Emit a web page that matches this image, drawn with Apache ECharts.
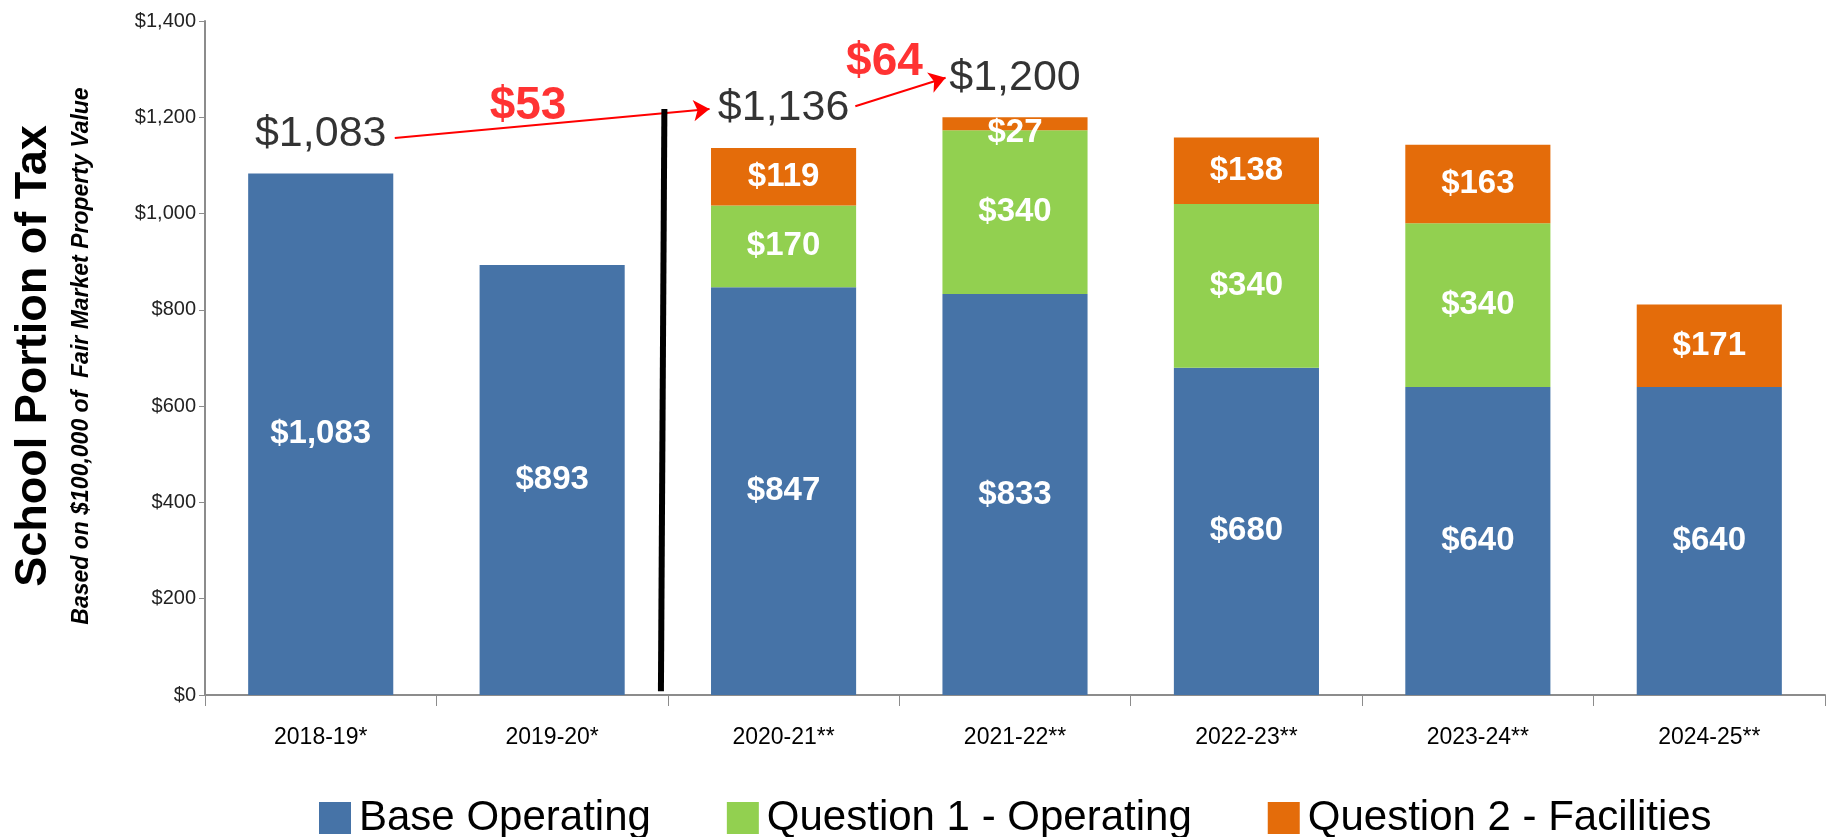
<!DOCTYPE html>
<html>
<head>
<meta charset="utf-8">
<script src="https://cdn.jsdelivr.net/npm/echarts@6/dist/echarts.min.js"></script>
<style>
html,body{margin:0;padding:0;background:#fff;}
#chart{width:1831px;height:837px;}
</style>
</head>
<body>
<div id="chart"></div>
<script>
// ---- data ----
const categories = ['2018-19*', '2019-20*', '2020-21**', '2021-22**', '2022-23**', '2023-24**', '2024-25**'];
const baseOperating = [1083, 893, 847, 833, 680, 640, 640];
const question1Operating = [null, null, 170, 340, 340, 340, null];
const question2Facilities = [null, null, 119, 27, 138, 163, 171];
const annotatedTotals = [1083, null, 1136, 1200, null, null, null];
const changeLabels = ['$53', '$64'];
const yAxisMin = 0, yAxisMax = 1400, yAxisStep = 200;
const seriesNames = ['Base Operating', 'Question 1 - Operating', 'Question 2 - Facilities'];

const FONT = '"Liberation Sans", Arial, sans-serif';
const money = v => '$' + Number(v).toLocaleString('en-US');

const chart = echarts.init(document.getElementById('chart'), null, {renderer: 'canvas'});

const barLabel = {
  show: true,
  position: 'inside',
  color: '#ffffff',
  fontFamily: FONT,
  fontWeight: 'bold',
  fontSize: 33,
  formatter: p => money(p.value)
};

function barSeries(name, values, color) {
  return {
    name: name,
    type: 'bar',
    stack: 'total',
    xAxisIndex: 0,
    yAxisIndex: 0,
    barWidth: '62.7%',
    data: values.map(v => (v !== null && v < 50)
      ? {value: v, label: {offset: [0, 9]}}
      : v),
    itemStyle: {color: color},
    label: barLabel
  };
}

const option = {
  animation: false,
  backgroundColor: '#ffffff',
  grid: {left: 205, right: 6, top: 21, bottom: 142, containLabel: false},
  legend: {
    data: seriesNames,
    left: 319,
    top: 797,
    padding: 0,
    icon: 'rect',
    itemWidth: 32,
    itemHeight: 32,
    itemGap: 76,
    textStyle: {fontFamily: FONT, fontSize: 42, color: '#000000', padding: [0, 0, 0, 3]},
    selectedMode: false
  },
  xAxis: [
    {
      type: 'category',
      data: categories,
      boundaryGap: true,
      axisLine: {lineStyle: {color: '#8c8c8c', width: 2}},
      axisTick: {show: true, length: 11, lineStyle: {color: '#8c8c8c', width: 1}},
      axisLabel: {fontFamily: FONT, fontSize: 23, color: '#000000', margin: 31}
    },
    {
      type: 'value',
      min: -0.5,
      max: 6.5,
      show: false
    }
  ],
  yAxis: {
    type: 'value',
    min: yAxisMin,
    max: yAxisMax,
    interval: yAxisStep,
    splitLine: {show: false},
    axisLine: {show: true, onZero: false, lineStyle: {color: '#8c8c8c', width: 2}},
    axisTick: {show: true, length: 6, inside: false, lineStyle: {color: '#8c8c8c'}},
    axisLabel: {fontFamily: FONT, fontSize: 20, color: '#222222', margin: 9, formatter: v => money(v)}
  },
  series: [
    barSeries(seriesNames[0], baseOperating, '#4673A7'),
    barSeries(seriesNames[1], question1Operating, '#92D050'),
    barSeries(seriesNames[2], question2Facilities, '#E46C0A'),
    {
      name: 'totals',
      type: 'scatter',
      xAxisIndex: 0,
      yAxisIndex: 0,
      symbolSize: 0,
      silent: true,
      data: annotatedTotals,
      label: {
        show: true,
        position: 'top',
        distance: 18,
        color: '#000000',
        fontFamily: FONT,
        fontSize: 43,
        lineHeight: 43,
        formatter: p => money(p.value)
      }
    },
    {
      name: 'changes',
      type: 'scatter',
      xAxisIndex: 1,
      yAxisIndex: 0,
      symbolSize: 0,
      silent: true,
      data: [
        {value: [0.896, 1222], name: changeLabels[0]},
        {value: [2.436, 1315], name: changeLabels[1]}
      ],
      label: {
        show: true,
        position: 'inside',
        color: '#FF0000',
        fontFamily: FONT,
        fontWeight: 'bold',
        fontSize: 46,
        formatter: p => p.name
      },
      markLine: {
        silent: true,
        animation: false,
        label: {show: false},
        emphasis: {disabled: true},
        data: [
          [
            {coord: [0.32, 1157], symbol: 'none', lineStyle: {color: '#FF0000', width: 2, type: 'solid'}},
            {coord: [1.68, 1217], symbol: 'arrow', symbolSize: 16}
          ],
          [
            {coord: [2.31, 1223], symbol: 'none', lineStyle: {color: '#FF0000', width: 2, type: 'solid'}},
            {coord: [2.70, 1282], symbol: 'arrow', symbolSize: 16}
          ],
          [
            {coord: [1.485, 1217], symbol: 'none', lineStyle: {color: '#000000', width: 6, type: 'solid'}},
            {coord: [1.47, 8], symbol: 'none'}
          ]
        ]
      }
    }
  ],
  graphic: [
    {
      type: 'text',
      x: 34,
      y: 356,
      rotation: Math.PI / 2,
      style: {
        text: 'School Portion of Tax',
        fontFamily: FONT,
        fontWeight: 'bold',
        fontSize: 45,
        fill: '#000000',
        textAlign: 'center',
        textVerticalAlign: 'middle'
      }
    },
    {
      type: 'text',
      x: 82,
      y: 356,
      rotation: Math.PI / 2,
      style: {
        text: 'Based on $100,000 of  Fair Market Property Value',
        fontFamily: FONT,
        fontWeight: 'bold',
        fontStyle: 'italic',
        fontSize: 23,
        fill: '#000000',
        textAlign: 'center',
        textVerticalAlign: 'middle'
      }
    }
  ]
};

chart.setOption(option);
</script>
</body>
</html>
